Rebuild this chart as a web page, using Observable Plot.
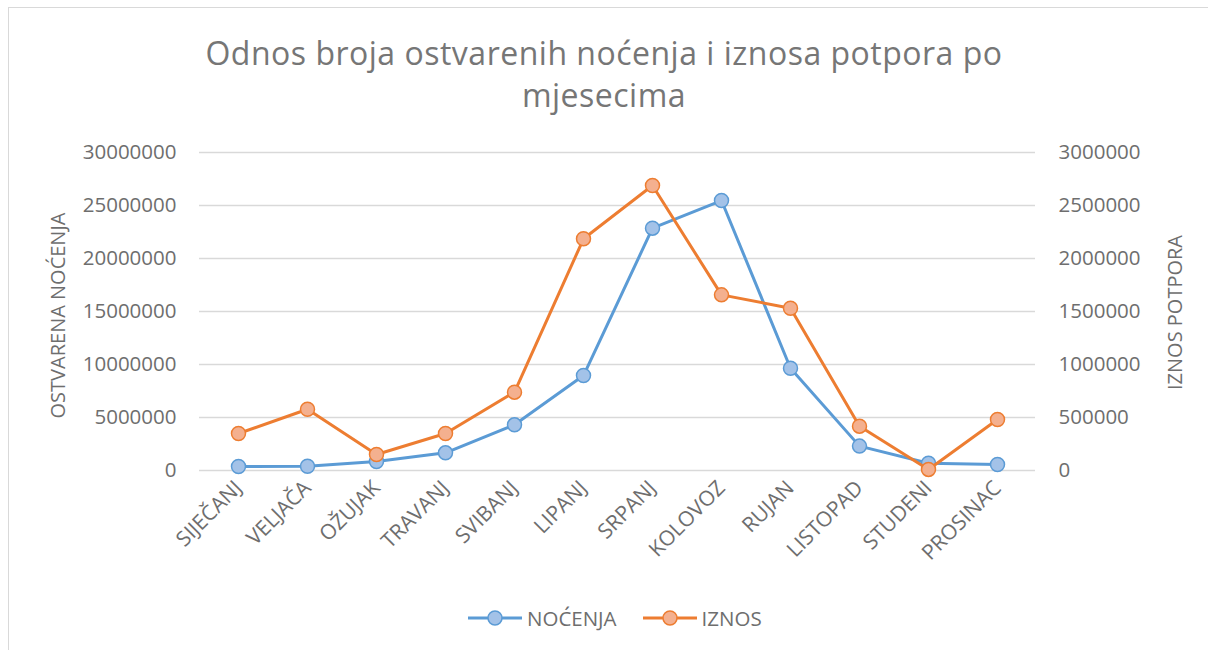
<!DOCTYPE html>
<html>
<head>
<meta charset="utf-8">
<script src="https://cdn.jsdelivr.net/npm/d3@7"></script>
<script src="https://cdn.jsdelivr.net/npm/@observablehq/plot@0.6"></script>
<style>
  html, body { margin: 0; padding: 0; background: #fff; overflow: hidden; }
  #wrap { position: relative; width: 1208px; height: 650px; overflow: hidden; font-family: "Open Sans", sans-serif; color: #6e6e6e; }
  #frame { position: absolute; left: 8px; top: 7px; width: 1300px; height: 800px; border-left: 1.5px solid #d9d9d9; border-top: 1.5px solid #d9d9d9; pointer-events: none; z-index: 3; }
  #title { position: absolute; left: 0; top: 32px; width: 1208px; text-align: center; font-size: 32px; letter-spacing: 0.5px; line-height: 42px; color: #767676; z-index: 2; }
  #chart { position: absolute; left: 0; top: 0; z-index: 1; }
  #legend { position: absolute; left: 468px; top: 604px; display: flex; align-items: center; font-size: 20.5px; color: #6e6e6e; z-index: 2; }
  .item { display: flex; align-items: center; }
  .item span { margin-left: 5px; }
</style>
</head>
<body>
<div id="wrap">
  <div id="title">Odnos broja ostvarenih noćenja i iznosa potpora po<br>mjesecima</div>
  <div id="chart"></div>
  <div id="legend"></div>
  <div id="frame"></div>
</div>
<script>
const months = ["SIJEČANJ","VELJAČA","OŽUJAK","TRAVANJ","SVIBANJ","LIPANJ","SRPANJ","KOLOVOZ","RUJAN","LISTOPAD","STUDENI","PROSINAC"];
const nocenja = [380000, 400000, 850000, 1670000, 4310000, 8960000, 22860000, 25470000, 9650000, 2300000, 690000, 570000];
const iznos = [349000, 578000, 151000, 349000, 739000, 2186000, 2689000, 1657000, 1531000, 418000, 10000, 481000];
const leftTicks = [0, 5000000, 10000000, 15000000, 20000000, 25000000, 30000000];
const rightTicks = [0, 500000, 1000000, 1500000, 2000000, 2500000, 3000000];
const seriesNames = ["NOĆENJA", "IZNOS"];
const axisTitles = ["OSTVARENA NOĆENJA", "IZNOS POTPORA"];

const ratio = leftTicks[leftTicks.length - 1] / rightTicks[rightTicks.length - 1];
const data = months.map((m, i) => ({month: m, nocenja: nocenja[i], iznos: iznos[i], iznosScaled: iznos[i] * ratio}));

const blue = "#5b9bd5", blueFill = "#a3c2e8";
const orange = "#ed7d31", orangeFill = "#f4b08f";
const gray = "#6e6e6e";

const chart = Plot.plot({
  width: 1208,
  height: 650,
  marginTop: 152,
  marginBottom: 180,
  marginLeft: 199,
  marginRight: 173,
  style: {fontFamily: "'Open Sans', sans-serif", fontSize: "20.5px", color: gray, background: "none", overflow: "visible"},
  x: {type: "point", domain: months, padding: 0.5},
  y: {domain: [0, leftTicks[leftTicks.length - 1]]},
  marks: [
    Plot.gridY(leftTicks, {stroke: "#d9d9d9", strokeOpacity: 1, strokeWidth: 1.5}),
    Plot.axisY(leftTicks, {anchor: "left", tickSize: 0, tickPadding: 23, tickFormat: d => String(d), label: null}),
    Plot.axisY(leftTicks, {anchor: "right", tickSize: 0, tickPadding: 23, tickFormat: d => String(d / ratio), label: null}),
    Plot.axisX({anchor: "bottom", tickSize: 0, tickRotate: -45, tickPadding: 14, label: null, fontSize: 21}),
    Plot.text([axisTitles[0]], {frameAnchor: "left", dx: -141, dy: 4, rotate: -90, textAnchor: "middle", text: d => d, fill: gray, fontSize: 20}),
    Plot.text([axisTitles[1]], {frameAnchor: "right", dx: 140, dy: 1, rotate: -90, textAnchor: "middle", text: d => d, fill: gray, fontSize: 20}),
    Plot.line(data, {x: "month", y: "nocenja", stroke: blue, strokeWidth: 3}),
    Plot.dot(data, {x: "month", y: "nocenja", r: 7, fill: blueFill, stroke: blue, strokeWidth: 1.5}),
    Plot.line(data, {x: "month", y: "iznosScaled", stroke: orange, strokeWidth: 3}),
    Plot.dot(data, {x: "month", y: "iznosScaled", r: 7, fill: orangeFill, stroke: orange, strokeWidth: 1.5})
  ]
});
document.getElementById("chart").appendChild(chart);

// legend
const legend = d3.select("#legend");
[[seriesNames[0], blue, blueFill], [seriesNames[1], orange, orangeFill]].forEach(([name, s, f], i) => {
  const it = legend.append("div").attr("class", "item").style("margin-left", i ? "26px" : "0px");
  const svg = it.append("svg").attr("width", 54).attr("height", 20);
  svg.append("line").attr("x1", 0).attr("x2", 54).attr("y1", 10).attr("y2", 10).attr("stroke", s).attr("stroke-width", 3);
  svg.append("circle").attr("cx", 27).attr("cy", 10).attr("r", 7).attr("fill", f).attr("stroke", s).attr("stroke-width", 1.5);
  it.append("span").text(name);
});
</script>
</body>
</html>
